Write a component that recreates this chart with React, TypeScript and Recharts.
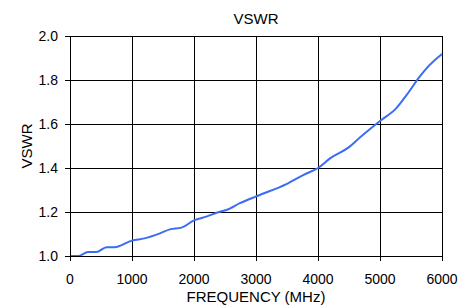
import React from 'react';
import { LineChart, Line, XAxis, YAxis, CartesianGrid, Label } from 'recharts';

const frequencies = [0, 130, 290, 425, 590, 720, 1000, 1200, 1450, 1610, 1800, 2000, 2200, 2415, 2520, 2740, 3030, 3490, 3760, 4000, 4200, 4500, 4680, 5000, 5260, 5430, 5640, 5750, 6000];
const vswr = [1.0, 1.0, 1.018, 1.018, 1.04, 1.04, 1.07, 1.08, 1.103, 1.121, 1.129, 1.162, 1.179, 1.201, 1.209, 1.24, 1.274, 1.327, 1.368, 1.4, 1.445, 1.495, 1.54, 1.614, 1.671, 1.732, 1.815, 1.853, 1.918];
const xTicks = [0, 1000, 2000, 3000, 4000, 5000, 6000];
const yTicks = [1.0, 1.2, 1.4, 1.6, 1.8, 2.0];

const data = frequencies.map((f, i) => ({ f, v: vswr[i] }));

const FONT = '"Liberation Sans", Arial, sans-serif';

export default function App() {
  return (
    <div style={{ position: 'absolute', left: 0, top: 0, width: 473, height: 305, background: '#fff', fontFamily: FONT }}>
      <style>{`.recharts-cartesian-grid line, .recharts-cartesian-axis-line, .recharts-cartesian-axis-tick-line { shape-rendering: crispEdges; }`}</style>
      <div style={{ position: 'absolute', left: 0, width: 512, top: 10, textAlign: 'center', fontSize: 15, lineHeight: '18px', color: '#000' }}>VSWR</div>
      <LineChart width={473} height={305} data={data} margin={{ top: 36, right: 31, left: 0, bottom: 0 }}>
        <CartesianGrid stroke="#000" strokeWidth={1} />
        <XAxis
          dataKey="f"
          type="number"
          domain={[0, 6000]}
          ticks={xTicks}
          interval={0}
          height={49}
          tickSize={5}
          tickMargin={13}
          axisLine={{ stroke: '#000' }}
          tickLine={{ stroke: '#000' }}
          tick={{ fill: '#000', fontSize: 14, fontFamily: FONT }}
        >
          <Label value="FREQUENCY (MHz)" position="insideBottom" offset={3} style={{ fill: '#000', fontSize: 15, fontFamily: FONT }} />
        </XAxis>
        <YAxis
          dataKey="v"
          type="number"
          domain={[1, 2]}
          ticks={yTicks}
          interval={0}
          width={70}
          tickSize={5}
          tickMargin={7}
          tickFormatter={(v: number) => v.toFixed(1)}
          axisLine={{ stroke: '#000' }}
          tickLine={{ stroke: '#000' }}
          tick={{ fill: '#000', fontSize: 14, fontFamily: FONT }}
        >
          <Label value="VSWR" angle={-90} position="center" dx={-8} style={{ fill: '#000', fontSize: 15, fontFamily: FONT, textAnchor: 'middle' }} />
        </YAxis>
        <Line type="monotone" dataKey="v" stroke="#3a6cf6" strokeWidth={2} dot={false} isAnimationActive={false} />
      </LineChart>
    </div>
  );
}
